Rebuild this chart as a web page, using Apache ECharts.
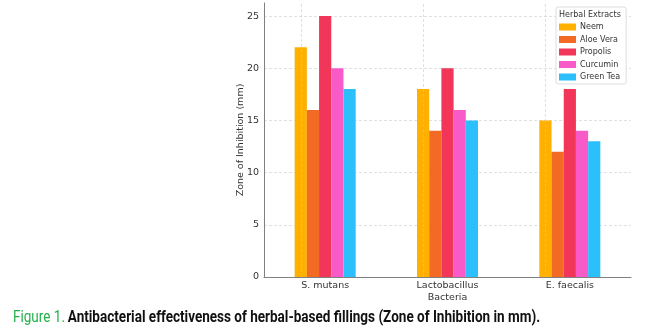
<!DOCTYPE html>
<html><head><meta charset="utf-8">
<script src="https://cdn.jsdelivr.net/npm/echarts@6/dist/echarts.min.js"></script>
<style>html,body{margin:0;padding:0;background:#fff}#c{width:660px;height:336px}</style>
</head><body><div id="c"></div>
<script>
const categories = ['S. mutans', 'Lactobacillus', 'E. faecalis'];
const seriesNames = ['Neem', 'Aloe Vera', 'Propolis', 'Curcumin', 'Green Tea'];
const neem = [22, 18, 15];
const aloeVera = [16, 14, 12];
const propolis = [25, 20, 18];
const curcumin = [20, 16, 14];
const greenTea = [18, 15, 13];
const colors = ['#FFB000', '#F26A24', '#F2365A', '#F85BC8', '#2BBFFB'];
const values = [neem, aloeVera, propolis, curcumin, greenTea];

const chart = echarts.init(document.getElementById('c'), null, {renderer: 'canvas'});
const font = 'DejaVu Sans';
const series = seriesNames.map((n, i) => ({
  name: n, type: 'bar', data: values[i], barWidth: 12.2, barGap: '0%',
  itemStyle: {color: colors[i]},
  z: 2
}));
series[0].markLine = {
  silent: true, symbol: 'none', label: {show: false},
  lineStyle: {color: 'rgba(200,200,200,0.7)', type: [3, 2], width: 0.8},
  data: categories.map(c => ({xAxis: c})),
  animation: false
};
chart.setOption({
  animation: false,
  grid: {left: 264, right: 29, top: 3, bottom: 59},
  xAxis: {
    type: 'category', data: categories,
    name: 'Bacteria', nameLocation: 'middle', nameGap: 16, nameMoveOverlap: false,
    nameTextStyle: {fontFamily: font, fontSize: 9.5, color: '#333', verticalAlign: 'top'},
    axisLine: {lineStyle: {color: '#808080', width: 1}},
    axisTick: {show: false},
    axisLabel: {fontFamily: font, fontSize: 9.5, color: '#333', margin: 4},
    splitLine: {show: false}
  },
  yAxis: {
    type: 'value', min: 0, max: 26.25, interval: 5,
    name: 'Zone of Inhibition (mm)', nameLocation: 'middle', nameGap: 18, nameMoveOverlap: false,
    nameTextStyle: {fontFamily: font, fontSize: 9.5, color: '#333'},
    axisLine: {show: true, lineStyle: {color: '#808080', width: 1}},
    axisTick: {show: false},
    axisLabel: {fontFamily: font, fontSize: 9.5, color: '#333', margin: 5, showMaxLabel: false,
      formatter: v => (v % 5 === 0 ? String(v) : '')},
    splitLine: {show: true, showMaxLine: false, lineStyle: {color: 'rgba(200,200,200,0.7)', type: [3, 2], width: 0.8}}
  },
  legend: {
    orient: 'vertical', left: 556, top: 7,
    padding: [16, 6, 3, 3],
    itemWidth: 17, itemHeight: 7, itemGap: 4.5,
    icon: 'rect',
    borderColor: '#ddd', borderWidth: 1, borderRadius: 2,
    backgroundColor: 'rgba(255,255,255,0.9)',
    textStyle: {fontFamily: font, fontSize: 8, color: '#333', padding: [0, 0, 0, -1]},
    data: seriesNames
  },
  graphic: [
    {type: 'text', left: 559, top: 11, z: 100,
      style: {text: 'Herbal Extracts', font: '8px "DejaVu Sans"', fill: '#333'}},
    {type: 'text', x: 13, y: 310, scaleX: 0.845,
      style: {x: 0, y: 0, verticalAlign: 'top', rich: {
        g: {fontFamily: 'Roboto', fontSize: 16, fill: '#22B14C'},
        b: {fontFamily: 'Roboto', fontSize: 16, fontWeight: 'bold', fill: '#111'}
      }, text: '{g|Figure 1.} {b|Antibacterial effectiveness of herbal-based fillings (Zone of Inhibition in mm).}'}}
  ],
  series: series
});
</script></body></html>
